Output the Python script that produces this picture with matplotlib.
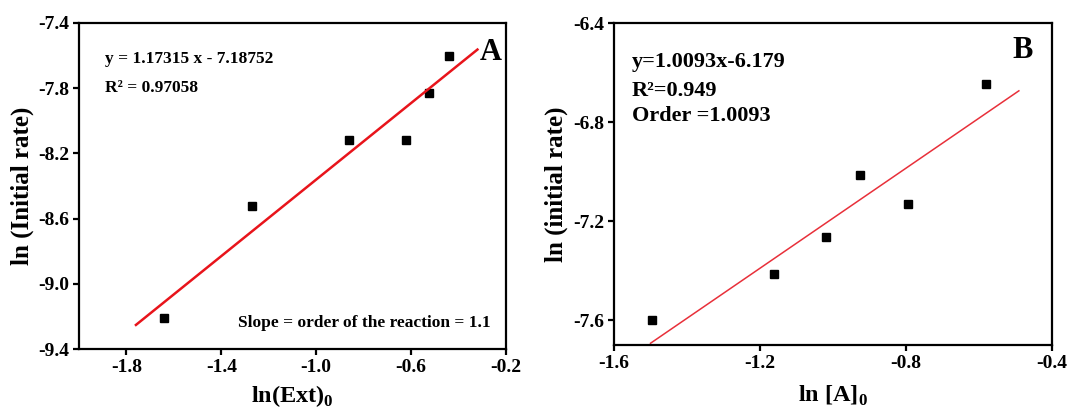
import matplotlib
matplotlib.use("Agg")
import matplotlib.pyplot as plt
import numpy as np

plt.rcParams['font.family'] = ['Liberation Serif']
plt.rcParams['font.weight'] = 'bold'
plt.rcParams['mathtext.fontset'] = 'custom'
plt.rcParams['mathtext.rm'] = 'Liberation Serif:bold'
plt.rcParams['mathtext.bf'] = 'Liberation Serif:bold'

# Panel A: extract concentration vs initial rate
ext_x = [-1.64, -1.27, -0.86, -0.62, -0.525, -0.44]
ext_y = [-9.21, -8.52, -8.12, -8.12, -7.83, -7.60]
ext_slope, ext_icpt = 1.17315, -7.18752
ext_fit_range = [-1.76, -0.32]

# Panel B: [A]0 vs initial rate
a_x = [-1.496, -1.162, -1.019, -0.926, -0.795, -0.581]
a_y = [-7.60, -7.415, -7.262, -7.012, -7.129, -6.646]
a_slope, a_icpt = 1.0093, -6.179
a_fit_range = [-1.50, -0.49]

fig = plt.figure(figsize=(10.78, 4.07), dpi=100)
axA = fig.add_axes([0.0733, 0.1425, 0.396, 0.801])
axB = fig.add_axes([0.5696, 0.1523, 0.406, 0.791])


def style(ax):
    for s in ax.spines.values():
        s.set_linewidth(1.6)
    ax.tick_params(direction='out', length=4.5, width=1.6, labelsize=14, pad=2.5)
    for lab in ax.get_xticklabels() + ax.get_yticklabels():
        lab.set_fontweight('bold')


# --- panel A ---
axA.plot(ext_x, ext_y, 's', color='black', markersize=6)
fx = np.array(ext_fit_range)
axA.plot(fx, ext_slope * fx + ext_icpt, color='#e8141b', lw=1.8)
axA.set_xlim(-2.0, -0.2)
axA.set_ylim(-9.4, -7.4)
axA.set_xticks([-1.8, -1.4, -1.0, -0.6, -0.2])
axA.set_yticks([-9.4, -9.0, -8.6, -8.2, -7.8, -7.4])
axA.xaxis.set_major_formatter(matplotlib.ticker.FormatStrFormatter('%.1f'))
axA.yaxis.set_major_formatter(matplotlib.ticker.FormatStrFormatter('%.1f'))
style(axA)
axA.set_xlabel(r'ln(Ext)$_0$', fontsize=17.5, fontweight='bold', labelpad=5)
axA.set_ylabel('ln (Initial rate)', fontsize=18, fontweight='bold', labelpad=3)
axA.text(0.06, 0.89, 'y = 1.17315 x - 7.18752', transform=axA.transAxes,
         fontsize=12.5, fontweight='bold', va='center')
axA.text(0.06, 0.80, 'R² = 0.97058', transform=axA.transAxes,
         fontsize=12.5, fontweight='bold', va='center')
axA.text(0.965, 0.08, 'Slope = order of the reaction = 1.1', transform=axA.transAxes,
         fontsize=12.5, fontweight='bold', va='center', ha='right')
axA.text(0.99, 0.91, 'A', transform=axA.transAxes,
         fontsize=22, fontweight='bold', va='center', ha='right')

# --- panel B ---
axB.plot(a_x, a_y, 's', color='black', markersize=6)
fx = np.array(a_fit_range)
axB.plot(fx, a_slope * fx + a_icpt, color='#e8303a', lw=1.1)
axB.set_xlim(-1.6, -0.4)
axB.set_ylim(-7.7, -6.4)
axB.set_xticks([-1.6, -1.2, -0.8, -0.4])
axB.set_yticks([-7.6, -7.2, -6.8, -6.4])
axB.xaxis.set_major_formatter(matplotlib.ticker.FormatStrFormatter('%.1f'))
axB.yaxis.set_major_formatter(matplotlib.ticker.FormatStrFormatter('%.1f'))
style(axB)
axB.set_xlabel(r'ln [A]$_0$', fontsize=17.5, fontweight='bold', labelpad=9)
axB.set_ylabel('ln (initial rate)', fontsize=18, fontweight='bold', labelpad=4)
axB.text(0.04, 0.88, 'y=1.0093x-6.179', transform=axB.transAxes,
         fontsize=16, fontweight='bold', va='center')
axB.text(0.04, 0.79, 'R²=0.949', transform=axB.transAxes,
         fontsize=16, fontweight='bold', va='center')
axB.text(0.04, 0.71, 'Order =1.0093', transform=axB.transAxes,
         fontsize=16, fontweight='bold', va='center')
axB.text(0.957, 0.916, 'B', transform=axB.transAxes,
         fontsize=22, fontweight='bold', va='center', ha='right')

fig.savefig('out.png', dpi=100)
